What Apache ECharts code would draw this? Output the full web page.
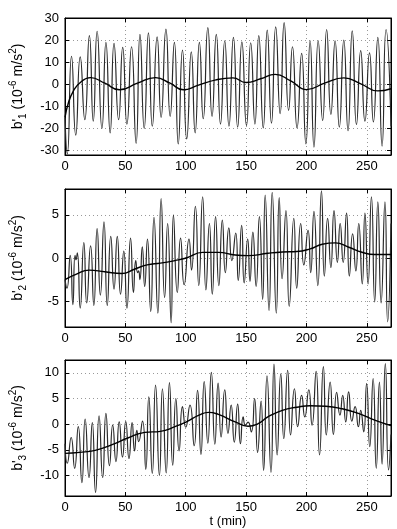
<!DOCTYPE html>
<html>
<head>
<meta charset="utf-8">
<script src="https://cdn.jsdelivr.net/npm/echarts@6/dist/echarts.min.js"></script>
<style>
  html, body { margin: 0; padding: 0; background: #fff; }
  #chart { width: 397px; height: 529px; }
</style>
</head>
<body>
<div id="chart"></div>
<script>
const tTicks = [0, 50, 100, 150, 200, 250];
const b1Ticks = [-30, -20, -10, 0, 10, 20, 30];
const b2Ticks = [-5, 0, 5];
const b3Ticks = [-10, -5, 0, 5, 10];

// peaks and troughs, [t (min), value]
const b1Wave = [
  [0, -15], [1.9, -31.5], [5.4, 12.7], [8.9, -23], [12.6, 12.4], [16.4, -16], [20.2, 22],
  [23.4, -16.7], [26.6, 24], [30.6, -20], [33.9, 19], [37.4, -22], [40.6, 18.5], [44.4, -16],
  [47.8, 16.7], [51.3, -18], [55.1, 17], [58.9, -26.7], [62.1, 22.6], [65.6, -20], [69.1, 23.3],
  [72.3, -19], [76.3, 21.5], [79.6, -15], [83.6, 25], [87.1, -14.5], [90.6, 19], [93.8, -27],
  [97.3, 15.5], [100.8, -24.7], [104.6, 14.7], [107.8, -22], [111.3, 19], [114.5, -15.6],
  [118.3, 25.6], [121.8, -14.5], [125.3, 22.6], [128.8, -18], [132.3, 19.7], [135.8, -19],
  [139.5, 21.2], [143, -19.4], [146.5, 19.2], [150.3, -18.6], [153.8, 18.8], [157.3, -18],
  [160.5, 22], [164.2, -19.7], [167.5, 24.5], [171, -17.6], [174.5, 26], [178.2, -13.3],
  [181.5, 27.9], [185.2, -11.8], [188.4, 17], [192.2, -19.7], [196, 14], [199.5, -27],
  [203, 19.7], [206.2, -28.5], [209.7, 19.7], [213.4, -16.4], [216.7, 24.8], [220.2, -13.6],
  [223.7, 19.7], [227.2, -19.4], [230.9, 20], [234.4, -21], [237.9, 24.2], [241.4, -18.2],
  [244.9, 15.2], [248.4, -16.7], [252.2, 14.2], [255.4, -17], [259.1, 21.2], [262.6, -28],
  [265.9, 24.8], [270, -19]
];
const b1Trend = [
  [0, -15], [3, -8], [7, -3], [12, 0.5], [21, 3], [33, 0.5], [45, -2.5], [60, 0.5], [75, 3],
  [87, 0.5], [98, -2.5], [110, -0.5], [125, 2], [139, 2.9], [150, 0.8], [162, 2.5], [174, 4.5],
  [187, 1.5], [200, -2.4], [215, 0.5], [231, 2.9], [245, 0.2], [259, -3], [270, -2]
];

const b2Wave = [
  [0, -2.5], [1.6, -3.5], [4.3, 0.3], [6.5, -5.4], [8.3, 0.3], [9.1, -0.2], [10.2, 0.6],
  [12.6, -5.8], [15.6, 1.8], [18, -5.2], [21.2, 1.4], [23.9, -5.5], [26.6, 3.4], [29.3, -4.3],
  [32.3, 4.2], [35, -5.5], [37.9, 2.5], [40.6, -3.6], [43.3, 2.5], [46, -4.2], [48.7, 0.8],
  [51.3, -5.8], [54.3, 2.3], [56.7, -4], [58.6, -0.3], [60.2, -1.7], [61, -1.5], [62, -2.5],
  [64, 1.3], [66, -3.3], [68.3, 2.2], [71, -6.2], [73.7, 4.7], [76.9, -6.4], [79.6, 6.9],
  [82.5, -4.6], [85, 4], [87.9, -7.5], [89.8, 5], [93, -4], [95.7, 2.3], [98.7, -3.1],
  [102.7, 2.2], [104.8, -1.4], [108, 6], [110.8, -3.2], [114, 7.1], [116.7, -3.7], [119.6, 4],
  [122, -4.2], [124.7, 4.8], [127.4, -3.2], [130.3, 4.4], [132.8, -1.7], [135.7, 3.5],
  [138.2, -0.3], [141.4, 2.9], [143.5, -2.6], [146.3, 3.8], [148.4, -2.9], [151.3, 2.2],
  [153.2, -2.7], [155.6, 3], [158.3, -3.3], [161, 4.8], [163.7, -4.8], [165.8, 7.3],
  [169, -6.1], [171.6, 7.6], [175, -6.4], [177.4, 7], [179.8, -2.4], [183, 5.5], [185.7, -5.6],
  [189.5, 4.6], [191.9, -3.5], [195.2, 4], [197.8, -0.8], [201.3, 3.2], [203.5, -1.7],
  [206.2, 5.4], [209.4, -3.2], [212.4, 7.8], [214.8, -2.1], [217.5, 4.6], [220.2, -1.1],
  [222.8, 5.5], [225.6, -0.5], [227.9, 4], [230.4, -0.5], [233.2, 5.2], [235.5, -2.1],
  [238.2, 2.8], [240.9, -1.5], [243.3, 4], [246.2, -3], [248.4, 5.2], [251, -3],
  [253.8, 7.1], [256.5, -5.1], [259.1, 6.5], [261.8, -5.2], [265, 6.5], [267.2, -7.4], [270, 4]
];
const b2Trend = [
  [0, -2.5], [9, -1.9], [20, -1.4], [33, -1.6], [47, -1.8], [57.5, -1.3], [68, -0.8],
  [79, -0.6], [91, -0.3], [100.5, 0], [114, 0.65], [127, 0.65], [141, 0.35], [151.6, 0.27],
  [168, 0.55], [180, 0.7], [192, 0.75], [203, 1.06], [213, 1.6], [224, 1.75], [235, 1.25],
  [246, 0.67], [256.5, 0.4], [270, 0.4]
];

const b3Wave = [
  [0, -3.8], [1.9, -7.6], [5.1, -2.6], [8, -8.6], [11, -0.5], [14, -11.4], [16.7, 1],
  [19.9, -10.4], [22.6, 0.3], [25.3, -13.3], [28.2, 1.6], [31.2, -10.4], [33.9, 2.1],
  [36.8, -8.1], [39.5, -0.2], [42.2, -7.3], [44.9, 0.45], [47.6, -6.4], [50.3, 0.5],
  [53, -6.7], [55.6, 0.3], [57.6, -5.2], [59.5, -1.2], [61, -3.4], [64.2, 0.6], [66.9, -8.8],
  [69.4, 5.3], [72.3, -9.6], [75, 7.6], [78.2, -10], [80.7, 6.9], [83.8, -9.5], [86.5, 8.1],
  [89.2, -8], [91.8, 5], [94.5, -5.2], [97.3, 3.4], [100, -0.6], [103.5, 3.7], [107, -4.2],
  [109.8, 6.6], [112.6, -5.9], [115.3, 8.3], [118.3, -3.7], [121.2, 10.1], [124.1, -3.9],
  [126.8, 8], [129.3, -2.5], [132.3, 6.7], [135, -1.8], [137.6, 3.7], [140.2, -3.5],
  [143, 3.9], [145.3, -3.8], [147.6, 1.4], [149.4, -0.2], [151.6, 0.4], [154.3, -1.5],
  [157, 5], [159.5, -5.5], [162.4, 4.5], [164.5, -9], [167.3, 9.4], [170.6, -9.4],
  [173.1, 11.7], [175.7, -6], [178.7, 9.8], [181.2, -2.8], [184.4, 10.5], [186.8, -2.1],
  [190, 6.9], [192.7, -0.5], [196, 5.6], [198.6, 1.4], [201.9, 6.7], [204.6, -0.2],
  [208, 10.3], [210.8, -6], [214, 11.2], [216.4, -2.1], [219.6, 8.2], [222.3, -2],
  [225, 6.2], [227.7, 1.75], [230, 5.6], [232.5, 0.45], [234.9, 6.3], [237.6, 0.6],
  [240.3, 3.4], [243, -0.5], [244.9, 2.7], [247.4, -1.5], [249.8, 7.9], [252.4, -4.4],
  [255.2, 8.9], [257.8, -8.6], [260.4, 8.2], [262.6, -7.8], [265.3, 11.8], [268, -8.9],
  [270, -2]
];
const b3Trend = [
  [0, -5.7], [12, -5.5], [25, -5.1], [39, -4], [52, -2.7], [66, -1.6], [79, -1.4], [91, -0.5],
  [100.5, 0.45], [111, 1.75], [119, 2.3], [127, 1.9], [141, 0.45], [151.6, -0.4], [160, 0.1],
  [168, 1.4], [180, 2.7], [192, 3.3], [203, 3.6], [216, 3.5], [229.6, 3], [243, 2.1],
  [256.5, 0.8], [270, -0.3]
];

const font = "'Liberation Sans', Arial, sans-serif";

const panels = [
  { top: 18, height: 137, min: -32, max: 30, ticks: b1Ticks, idx: '1', wave: b1Wave, trend: b1Trend },
  { top: 189, height: 138, min: -8, max: 8, ticks: b2Ticks, idx: '2', wave: b2Wave, trend: b2Trend },
  { top: 360, height: 137, min: -14, max: 12.5, ticks: b3Ticks, idx: '3', wave: b3Wave, trend: b3Trend }
];

const grid = [], xAxis = [], yAxis = [], series = [];

panels.forEach((p, i) => {
  grid.push({ left: 57, right: 6, top: p.top, height: p.height, show: true, borderColor: '#000', borderWidth: 1 });
  const last = i === panels.length - 1;
  xAxis.push({
    type: 'value', gridIndex: i, min: 0, max: 270,
    name: last ? 't (min)' : '', nameLocation: 'middle', nameGap: 19,
    nameTextStyle: { color: '#000', fontSize: 13, fontFamily: font },
    axisLine: { onZero: false, lineStyle: { color: '#000' } },
    axisTick: { inside: true, length: 4, customValues: tTicks, lineStyle: { color: '#000' } },
    axisLabel: { customValues: tTicks, color: '#000', fontSize: 13, fontFamily: font, margin: 5 },
    splitLine: { show: true, lineStyle: { color: '#999', type: [1, 3] } }
  });
  xAxis.push({
    type: 'value', gridIndex: i, min: 0, max: 270, position: 'top',
    axisLine: { onZero: false, lineStyle: { color: '#000' } },
    axisTick: { inside: true, length: 4, customValues: tTicks, lineStyle: { color: '#000' } },
    axisLabel: { show: false }, splitLine: { show: false }
  });
  yAxis.push({
    type: 'value', gridIndex: i, min: p.min, max: p.max,
    name: `{n|b'}{sub|${p.idx}}{n| (10}{sup|-6}{n| m/s}{sup|2}{n|)}`,
    nameLocation: 'middle', nameGap: 37, nameRotate: 90,
    nameTextStyle: {
      color: '#000', fontFamily: font,
      rich: {
        n: { fontSize: 14, lineHeight: 20, fontFamily: font, color: '#000' },
        sub: { fontSize: 10, lineHeight: 10, verticalAlign: 'bottom', fontFamily: font, color: '#000' },
        sup: { fontSize: 10, lineHeight: 10, verticalAlign: 'top', fontFamily: font, color: '#000' }
      }
    },
    axisLine: { show: true, onZero: false, lineStyle: { color: '#000' } },
    axisTick: { show: true, inside: true, length: 4, customValues: p.ticks, lineStyle: { color: '#000' } },
    axisLabel: { customValues: p.ticks, color: '#000', fontSize: 13, fontFamily: font, margin: 6 },
    splitLine: { show: true, lineStyle: { color: '#999', type: [1, 3] } }
  });
  yAxis.push({
    type: 'value', gridIndex: i, min: p.min, max: p.max, position: 'right',
    axisLine: { show: true, onZero: false, lineStyle: { color: '#000' } },
    axisTick: { show: true, inside: true, length: 4, customValues: p.ticks, lineStyle: { color: '#000' } },
    axisLabel: { show: false }, splitLine: { show: false }
  });
  series.push({
    type: 'line', xAxisIndex: 2 * i, yAxisIndex: 2 * i, data: p.wave,
    smooth: 0.6, showSymbol: false, lineStyle: { color: '#2a2a2a', width: 1.2 }, z: 2
  });
  series.push({
    type: 'line', xAxisIndex: 2 * i, yAxisIndex: 2 * i, data: p.trend,
    smooth: 0.5, showSymbol: false, lineStyle: { color: '#000', width: 1.4 }, z: 3
  });
});

const chart = echarts.init(document.getElementById('chart'));
chart.setOption({
  animation: false,
  backgroundColor: '#fff',
  grid, xAxis, yAxis, series
});
</script>
</body>
</html>
